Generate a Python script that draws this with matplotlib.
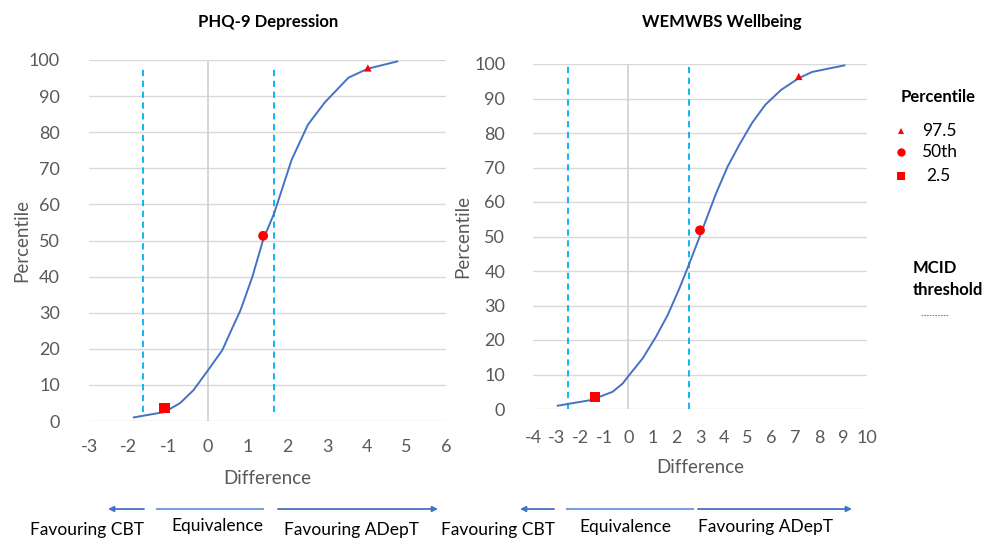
import matplotlib
matplotlib.use("Agg")
import matplotlib.pyplot as plt
from matplotlib.lines import Line2D

plt.rcParams['font.family'] = ['Lato', 'DejaVu Sans']
plt.rcParams['axes.unicode_minus'] = False

# ---- data ----
phq_diff = [-1.87, -1.09, -0.70, -0.37, -0.03, 0.36, 0.61, 0.82, 1.12, 1.39, 1.67, 2.11, 2.52, 2.94, 3.54, 4.03, 4.77]
phq_pct = [1.0, 2.5, 5.0, 8.5, 13.6, 19.6, 25.7, 30.7, 40.0, 50.2, 57.6, 72.4, 82.1, 88.2, 95.1, 97.6, 99.6]
phq_markers_x = [4.03, 1.39, -1.10]
phq_markers_y = [97.8, 51.3, 3.6]
phq_mcid = [-1.65, 1.67]
phq_mcid_span = [2.5, 97.5]

wem_diff = [-2.96, -1.56, -0.66, -0.24, 0.04, 0.60, 1.16, 1.65, 2.14, 2.56, 3.00, 3.68, 4.16, 4.65, 5.18, 5.74, 6.40, 7.14, 7.70, 9.05]
wem_pct = [0.96, 2.6, 5.0, 7.4, 9.9, 14.7, 21.0, 27.3, 35.0, 42.3, 50.2, 62.6, 70.3, 76.6, 82.9, 88.2, 92.5, 95.9, 97.7, 99.6]
wem_markers_x = [7.14, 3.00, -1.40]
wem_markers_y = [96.4, 51.8, 3.4]
wem_mcid = [-2.52, 2.55]
wem_mcid_span = [0, 100]

marker_labels = ['97.5', '50th', '2.5']
marker_shapes = ['^', 'o', 's']

W, H = 989, 539
fig = plt.figure(figsize=(W / 100, H / 100), dpi=100)

def fx(px):
    return px / W

def fy(py):
    return 1 - py / H

GRAY = '#595959'
BLUE = '#4472C4'
MCID = '#00B0F0'

def setup(ax, diff, pct, mx, my, mcid, span, xlim, xticks):
    ax.plot(diff, pct, color=BLUE, lw=1.4, zorder=3)
    sizes = [28, 50, 55]
    for x, y, m, s in zip(mx, my, marker_shapes, sizes):
        ax.scatter([x], [y], marker=m, s=s, color='red', zorder=4, edgecolors='none')
    for v in mcid:
        ax.plot([v, v], span, color=MCID, lw=1.3, ls=(0, (3.5, 2.5)), zorder=2)
    ax.set_xlim(*xlim)
    ax.set_ylim(0, 100)
    ax.set_xticks(xticks)
    ax.set_yticks(range(0, 101, 10))
    ax.grid(axis='y', color='#d9d9d9', lw=1.0)
    ax.axvline(0, color='#d0d0d0', lw=1.2, zorder=1)
    for s in ax.spines.values():
        s.set_visible(False)
    ax.tick_params(length=0, colors=GRAY, labelsize=13)
    ax.set_xlabel('Difference', color=GRAY, fontsize=13.5)
    ax.set_ylabel('Percentile', color=GRAY, fontsize=13.5)
    ax.set_axisbelow(True)

ax1 = fig.add_axes([fx(89), fy(421), fx(446) - fx(89), fy(60) - fy(421)])
setup(ax1, phq_diff, phq_pct, phq_markers_x, phq_markers_y, phq_mcid, phq_mcid_span,
      (-3, 6), range(-3, 7))
ax1.tick_params(axis='x', pad=13)
ax1.tick_params(axis='y', pad=21)
ax1.xaxis.set_label_coords(0.5, -0.135)
ax1.yaxis.set_label_coords(-0.165, 0.5)

ax2 = fig.add_axes([fx(533), fy(409), fx(867) - fx(533), fy(64) - fy(409)])
setup(ax2, wem_diff, wem_pct, wem_markers_x, wem_markers_y, wem_mcid, wem_mcid_span,
      (-4, 10), range(-4, 11))
ax2.tick_params(axis='x', pad=15)
ax2.tick_params(axis='y', pad=20)
ax2.xaxis.set_label_coords(0.5, -0.145)
ax2.yaxis.set_label_coords(-0.185, 0.5)

fig.text(fx(268), fy(22), 'PHQ-9 Depression', ha='center', va='center', fontsize=12, fontweight='bold')
fig.text(fx(722), fy(22), 'WEMWBS Wellbeing', ha='center', va='center', fontsize=12, fontweight='bold')

# legend
fig.text(fx(938), fy(97), 'Percentile', ha='center', va='center', fontsize=12, fontweight='bold')
leg_y = [131, 152, 176]
leg_tx = [922, 921, 926]
leg_ms = [4.5, 6, 6]
for (lab, m, yy, tx, ms) in zip(marker_labels, marker_shapes, leg_y, leg_tx, leg_ms):
    fig.add_artist(Line2D([fx(901)], [fy(yy)], marker=m, color='red', markersize=ms, ls='none',
                          markeredgewidth=0, transform=fig.transFigure))
    fig.text(fx(tx), fy(yy), lab, ha='left', va='center', fontsize=12.5)
fig.text(fx(913), fy(268), 'MCID', ha='left', va='center', fontsize=12, fontweight='bold')
fig.text(fx(913), fy(290), 'threshold', ha='left', va='center', fontsize=12, fontweight='bold')
fig.add_artist(Line2D([fx(921), fx(948)], [fy(315), fy(315)], color=MCID, lw=0.8, ls=(0, (1.5, 1)),
                      transform=fig.transFigure))

# direction arrows
def arrow(x0, x1, y):
    fig.add_artist(matplotlib.patches.FancyArrowPatch((fx(x0), fy(y)), (fx(x1), fy(y)),
                   transform=fig.transFigure, arrowstyle='-|>', mutation_scale=8,
                   color=BLUE, lw=1.3, shrinkA=0, shrinkB=0))

def seg(x0, x1, y):
    fig.add_artist(Line2D([fx(x0), fx(x1)], [fy(y), fy(y)], color='#7f9fd8', lw=1.5,
                          transform=fig.transFigure))

arrow(144, 108, 509)
seg(157, 263, 509)
arrow(278, 438, 509)
arrow(554, 520, 509)
seg(567, 693, 509)
arrow(698, 852, 509)

labels = [('Favouring CBT', 87, 530), ('Equivalence', 217, 526), ('Favouring ADepT', 352, 530),
          ('Favouring CBT', 498, 530), ('Equivalence', 625, 527), ('Favouring ADepT', 765, 527)]
for t, x, y in labels:
    fig.text(fx(x), fy(y), t, ha='center', va='center', fontsize=12.5)

fig.savefig('out.png', dpi=100)
